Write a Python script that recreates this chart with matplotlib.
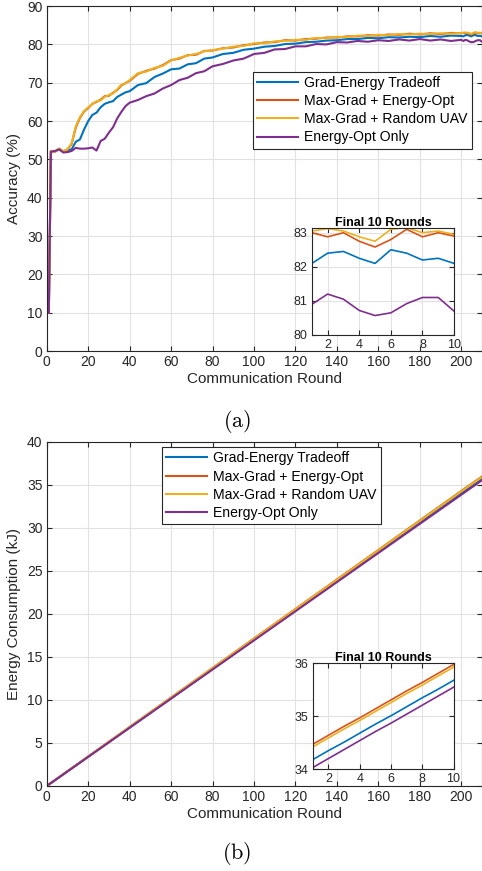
import matplotlib
matplotlib.use("Agg")
import matplotlib.pyplot as plt

plt.rcParams["font.family"] = ["Liberation Sans", "DejaVu Sans"]
plt.rcParams["mathtext.fontset"] = "cm"

AX_FG = "#262626"
GRID = "#e1e1e1"
COLORS = ["#0072BD", "#D95319", "#EDB120", "#7E2F8E"]

series_names = [
    "Grad-Energy Tradeoff",
    "Max-Grad + Energy-Opt",
    "Max-Grad + Random UAV",
    "Energy-Opt Only",
]

# accuracy (%) sampled along the run, then every round for the last ten
rounds = [1, 2, 4, 6, 8, 10, 12, 14, 16, 18, 20, 22, 24, 26, 28, 30, 32, 34, 36, 38, 40,
          44, 48, 52, 56, 60, 64, 68, 72, 76, 80,
          85, 90, 95, 100, 105, 110, 115, 120, 125, 130, 135, 140, 145, 150, 155,
          160, 165, 170, 175, 180, 185, 190, 195, 200]
final_rounds = list(range(201, 211))
inset_x = list(range(1, 11))

acc_tradeoff = [10.0, 52.2, 52.1, 52.7, 52.0, 52.4, 52.6, 54.6, 55.2, 57.8, 60.0, 61.6, 62.2,
                63.6, 64.5, 64.9, 65.2, 66.3, 66.9, 67.5, 67.8,
                69.4, 69.9, 71.5, 72.4, 73.5, 73.7, 74.8, 75.1, 76.3, 76.6,
                77.5, 77.8, 78.6, 78.9, 79.4, 79.6, 80.1, 80.2, 80.6, 80.7, 81.0, 81.1,
                81.4, 81.4, 81.7, 81.6, 81.9, 81.8, 82.0, 81.9, 82.2, 82.0, 82.3, 82.2]
acc_maxgrad_eopt = [10.0, 52.2, 52.0, 52.8, 52.1, 52.6, 54.0, 58.3, 60.8, 62.5, 63.4, 64.5, 65.0,
                    65.6, 66.5, 66.6, 67.4, 68.1, 69.3, 69.9, 70.5,
                    72.3, 73.1, 73.7, 74.6, 75.9, 76.3, 77.2, 77.3, 78.3, 78.4,
                    79.0, 79.2, 79.8, 80.1, 80.5, 80.6, 81.1, 81.0, 81.4, 81.5, 81.8, 81.8,
                    82.1, 82.1, 82.4, 82.3, 82.6, 82.5, 82.8, 82.6, 82.9, 82.7, 83.0, 82.9]
acc_maxgrad_rand = [10.0, 52.2, 52.0, 52.8, 52.1, 52.6, 54.2, 58.6, 61.0, 62.6, 63.6, 64.4, 65.2,
                    65.4, 66.3, 66.8, 67.2, 68.3, 69.5, 69.8, 70.7,
                    72.5, 72.9, 73.9, 74.4, 75.8, 76.5, 77.1, 77.5, 78.2, 78.5,
                    78.9, 79.4, 79.6, 80.3, 80.3, 80.8, 80.9, 81.2, 81.2, 81.7, 81.6, 82.0,
                    81.9, 82.3, 82.2, 82.5, 82.4, 82.7, 82.6, 82.8, 82.7, 82.9, 82.8, 83.0]
acc_eopt = [10.0, 52.0, 52.2, 52.6, 51.8, 51.9, 52.2, 53.0, 52.8, 52.8, 52.9, 53.1, 52.3,
            54.8, 55.4, 57.0, 58.4, 60.7, 62.4, 63.9, 64.8,
            65.5, 66.5, 67.2, 68.5, 69.4, 70.7, 71.3, 72.5, 73.0, 74.3,
            74.9, 75.8, 76.3, 77.5, 77.8, 78.7, 78.8, 79.5, 79.5, 80.1, 80.0, 80.6,
            80.5, 80.9, 80.7, 81.1, 80.9, 81.3, 81.0, 81.4, 81.0, 81.3, 80.9, 81.2]

acc_final_tradeoff = [82.10, 82.40, 82.45, 82.25, 82.10, 82.50, 82.40, 82.20, 82.25, 82.10]
acc_final_maxgrad_eopt = [83.00, 82.88, 83.00, 82.75, 82.58, 82.80, 83.10, 82.88, 83.00, 82.90]
acc_final_maxgrad_rand = [83.05, 83.12, 83.05, 82.88, 82.75, 83.10, 83.15, 83.00, 83.05, 82.95]
acc_final_eopt = [80.90, 81.20, 81.05, 80.72, 80.57, 80.65, 80.92, 81.10, 81.10, 80.70]

# cumulative energy (kJ): value after round 1, then the last ten rounds
energy_first = [0.17, 0.17, 0.17, 0.17]
energy_final_tradeoff = [34.18, 34.35, 34.51, 34.68, 34.85, 35.01, 35.18, 35.35, 35.51, 35.68]
energy_final_maxgrad_eopt = [34.47, 34.64, 34.81, 34.97, 35.14, 35.31, 35.48, 35.64, 35.81, 35.98]
energy_final_maxgrad_rand = [34.42, 34.59, 34.76, 34.92, 35.09, 35.26, 35.43, 35.59, 35.76, 35.93]
energy_final_eopt = [34.03, 34.20, 34.37, 34.54, 34.71, 34.87, 35.04, 35.21, 35.38, 35.55]

acc_runs = [acc_tradeoff, acc_maxgrad_eopt, acc_maxgrad_rand, acc_eopt]
acc_tails = [acc_final_tradeoff, acc_final_maxgrad_eopt, acc_final_maxgrad_rand, acc_final_eopt]
energy_tails = [energy_final_tradeoff, energy_final_maxgrad_eopt,
                energy_final_maxgrad_rand, energy_final_eopt]


def style_axes(ax, fs):
    ax.tick_params(direction="in", top=True, right=True, colors=AX_FG,
                   labelsize=fs, length=3.5, width=0.8, pad=3)
    for sp in ax.spines.values():
        sp.set_color(AX_FG)
        sp.set_linewidth(0.8)
    ax.grid(True, color=GRID, lw=0.8)
    ax.set_axisbelow(True)


def add_legend(ax, anchor):
    leg = ax.legend(loc="upper left", bbox_to_anchor=anchor, fontsize=10.1,
                    handlelength=2.9, labelspacing=0.3, borderpad=0.3,
                    handletextpad=0.45, borderaxespad=0, fancybox=False,
                    framealpha=1, edgecolor=AX_FG)
    leg.get_frame().set_linewidth(0.8)
    for t in leg.get_texts():
        t.set_color("#000000")


def add_inset(fig, rect, ylim, yticks):
    ins = fig.add_axes(rect)
    style_axes(ins, 9)
    ins.set_xlim(1, 10)
    ins.set_ylim(*ylim)
    ins.set_xticks([2, 4, 6, 8, 10])
    ins.set_yticks(yticks)
    ins.set_title("Final 10 Rounds", fontsize=9, fontweight="bold", pad=2, color="#000000")
    return ins


fig = plt.figure(figsize=(4.82, 8.71), dpi=100)

# (a) accuracy
ax1 = fig.add_axes([0.097, 0.597, 0.903, 0.396])
style_axes(ax1, 10)
for vals, tail, name, col in zip(acc_runs, acc_tails, series_names, COLORS):
    ax1.plot(rounds + final_rounds, vals + tail, color=col, lw=1.5, label=name)
ax1.set_xlim(0, 210)
ax1.set_ylim(0, 90)
ax1.set_xticks(range(0, 201, 20))
ax1.set_yticks(range(0, 91, 10))
ax1.set_xlabel("Communication Round", fontsize=11, color=AX_FG, labelpad=2)
ax1.set_ylabel("Accuracy (%)", fontsize=11, color=AX_FG, labelpad=4)
add_legend(ax1, (0.473, 0.810))

ins1 = add_inset(fig, [0.647, 0.6154, 0.295, 0.1225], (80, 83.13), [80, 81, 82, 83])
for tail, col in zip(acc_tails, COLORS):
    ins1.plot(inset_x, tail, color=col, lw=1.2)

fig.text(0.492, 0.516, r"$\mathrm{(a)}$", fontsize=16, ha="center", va="center")

# (b) energy
ax2 = fig.add_axes([0.097, 0.0976, 0.903, 0.395])
style_axes(ax2, 10)
for first, tail, name, col in zip(energy_first, energy_tails, series_names, COLORS):
    ax2.plot([1] + final_rounds, [first] + tail, color=col, lw=1.5, label=name)
ax2.set_xlim(0, 210)
ax2.set_ylim(0, 40)
ax2.set_xticks(range(0, 201, 20))
ax2.set_yticks(range(0, 41, 5))
ax2.set_xlabel("Communication Round", fontsize=11, color=AX_FG, labelpad=2)
ax2.set_ylabel("Energy Consumption (kJ)", fontsize=11, color=AX_FG, labelpad=4)
add_legend(ax2, (0.264, 0.985))

ins2 = add_inset(fig, [0.649, 0.117, 0.292, 0.1213], (34, 36), [34, 35, 36])
for tail, col in zip(energy_tails, COLORS):
    ins2.plot(inset_x, tail, color=col, lw=1.2)

fig.text(0.492, 0.0203, r"$\mathrm{(b)}$", fontsize=16, ha="center", va="center")

fig.savefig("out.png", dpi=100, facecolor="white")
